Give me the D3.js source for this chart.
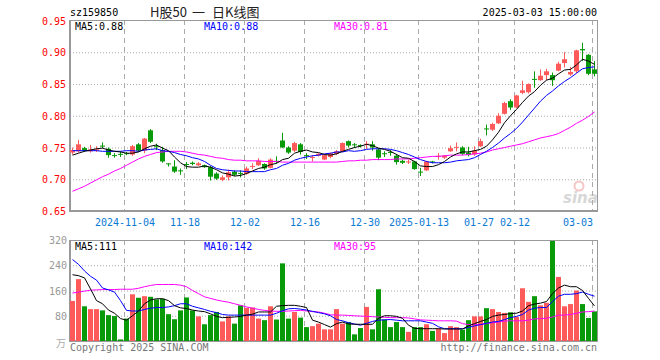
<!DOCTYPE html>
<html>
<head>
<meta charset="utf-8">
<script src="https://cdn.jsdelivr.net/npm/d3@7"></script>
<style>
  body { margin: 0; background: #fff; }
  svg text { font-family: "DejaVu Sans Mono", monospace; font-size: 10px; }
  .grid line { stroke: #aaa; }
  .grid path { display: none; }
</style>
</head>
<body>
<div id="chart"></div>
<script>
// daily candles, H股50 (sz159850)
const dates = [
  "2024-10-22","2024-10-23","2024-10-24","2024-10-25","2024-10-28","2024-10-29","2024-10-30","2024-10-31","2024-11-01","2024-11-04",
  "2024-11-05","2024-11-06","2024-11-07","2024-11-08","2024-11-11","2024-11-12","2024-11-13","2024-11-14","2024-11-15","2024-11-18",
  "2024-11-19","2024-11-20","2024-11-21","2024-11-22","2024-11-25","2024-11-26","2024-11-27","2024-11-28","2024-11-29","2024-12-02",
  "2024-12-03","2024-12-04","2024-12-05","2024-12-06","2024-12-09","2024-12-10","2024-12-11","2024-12-12","2024-12-13","2024-12-16",
  "2024-12-17","2024-12-18","2024-12-19","2024-12-20","2024-12-23","2024-12-24","2024-12-25","2024-12-26","2024-12-27","2024-12-30",
  "2024-12-31","2025-01-02","2025-01-03","2025-01-06","2025-01-07","2025-01-08","2025-01-09","2025-01-10","2025-01-13","2025-01-14",
  "2025-01-15","2025-01-16","2025-01-17","2025-01-20","2025-01-21","2025-01-22","2025-01-23","2025-01-24","2025-01-27","2025-02-05",
  "2025-02-06","2025-02-07","2025-02-10","2025-02-11","2025-02-12","2025-02-13","2025-02-14","2025-02-17","2025-02-18","2025-02-19",
  "2025-02-20","2025-02-21","2025-02-24","2025-02-25","2025-02-26","2025-02-27","2025-02-28","2025-03-03"
];
const open = [
  .742,.744,.749,.744,.745,.753,.748,.738,.740,.741,
  .739,.755,.745,.777,.752,.746,.725,.720,.714,.724,
  .726,.722,.722,.719,.709,.699,.703,.712,.710,.709,
  .720,.722,.724,.718,.729,.761,.750,.745,.755,.738,
  .734,.737,.731,.735,.740,.744,.760,.755,.754,.755,
  .755,.747,.741,.743,.737,.729,.727,.728,.712,.714,
  .728,.736,.734,.744,.750,.750,.742,.739,.752,.780,
  .778,.788,.803,.823,.813,.836,.837,.858,.856,.864,
  .864,.871,.883,.865,.870,.905,.896,.873
];
const high = [
  .750,.762,.751,.754,.752,.758,.750,.741,.744,.743,
  .754,.757,.765,.779,.756,.751,.725,.730,.717,.727,
  .728,.727,.723,.721,.711,.706,.715,.714,.714,.720,
  .725,.733,.725,.733,.736,.773,.752,.759,.757,.741,
  .738,.741,.739,.742,.746,.758,.761,.757,.755,.760,
  .760,.749,.744,.746,.740,.731,.731,.729,.718,.729,
  .729,.741,.738,.753,.758,.752,.751,.752,.764,.786,
  .789,.804,.822,.826,.833,.855,.851,.870,.873,.874,
  .868,.885,.900,.877,.904,.915,.897,.886
];
const low = [
  .739,.742,.743,.742,.743,.749,.734,.734,.735,.738,
  .737,.743,.741,.757,.746,.726,.720,.710,.707,.716,
  .722,.721,.718,.698,.699,.697,.698,.705,.703,.707,
  .716,.721,.715,.717,.725,.749,.740,.743,.739,.732,
  .728,.736,.730,.733,.738,.743,.750,.749,.750,.748,
  .745,.730,.735,.737,.723,.724,.724,.715,.705,.713,
  .725,.731,.732,.743,.744,.738,.736,.737,.751,.769,
  .776,.787,.802,.809,.812,.834,.835,.844,.855,.856,
  .847,.870,.876,.863,.867,.886,.864,.862
];
const close = [
  .746,.755,.745,.747,.747,.752,.738,.737,.739,.740,
  .752,.745,.764,.759,.751,.728,.724,.712,.713,.723,
  .724,.725,.719,.704,.701,.703,.711,.707,.709,.717,
  .721,.729,.717,.731,.727,.750,.742,.757,.743,.737,
  .735,.740,.738,.741,.744,.757,.753,.754,.753,.756,
  .750,.734,.740,.742,.727,.726,.728,.716,.711,.728,
  .727,.737,.737,.749,.751,.740,.738,.745,.760,.779,
  .787,.800,.820,.813,.832,.840,.850,.857,.863,.870,
  .856,.882,.889,.869,.903,.903,.866,.866
];
// moving averages as drawn on the picture
const ma5 = [
  .738,.741,.744,.746,.748,.749,.746,.744,.743,.741,
  .741,.743,.748,.752,.754,.749,.745,.735,.726,.720,
  .719,.719,.721,.719,.715,.710,.708,.705,.706,.709,
  .713,.717,.719,.723,.725,.731,.733,.741,.744,.746,
  .743,.742,.739,.738,.740,.744,.747,.750,.752,.755,
  .753,.749,.747,.744,.739,.734,.733,.728,.721,.720,
  .720,.723,.728,.735,.740,.743,.743,.745,.747,.752,
  .762,.774,.789,.800,.810,.821,.831,.838,.848,.856,
  .859,.866,.872,.873,.880,.889,.886,.881
];
const ma10 = [
  .745,.745,.745,.745,.745,.744,.744,.744,.744,.745,
  .745,.744,.746,.747,.748,.745,.744,.742,.739,.737,
  .734,.732,.728,.722,.717,.715,.714,.713,.713,.712,
  .712,.712,.712,.715,.717,.722,.725,.730,.733,.735,
  .737,.738,.740,.741,.743,.743,.745,.744,.745,.747,
  .748,.748,.748,.747,.745,.742,.739,.735,.731,.728,
  .726,.726,.726,.727,.729,.730,.731,.734,.739,.744,
  .750,.757,.765,.772,.780,.790,.801,.812,.823,.832,
  .839,.847,.854,.860,.867,.874,.876,.877
];
const ma30 = [
  .681,.685,.689,.694,.699,.704,.708,.713,.717,.722,
  .727,.732,.736,.739,.742,.743,.744,.744,.744,.743,
  .741,.739,.738,.736,.734,.733,.731,.730,.730,.729,
  .729,.729,.728,.728,.728,.727,.727,.727,.727,.727,
  .727,.727,.727,.727,.727,.728,.729,.729,.730,.730,
  .731,.731,.731,.731,.732,.732,.732,.733,.734,.735,
  .736,.736,.737,.738,.738,.738,.739,.740,.741,.743,
  .746,.748,.750,.752,.754,.756,.759,.762,.765,.767,
  .769,.772,.777,.782,.788,.793,.799,.806
];
// volume, 万手
const volume = [
  127,196,110,101,101,97,82,79,5,71,
  148,137,142,140,132,134,85,69,97,138,
  97,78,53,82,92,62,78,55,113,105,
  106,71,66,110,68,246,71,92,74,44,
  47,55,37,37,101,55,60,21,41,108,
  37,164,68,44,60,44,29,44,44,53,
  32,39,25,47,44,36,66,78,78,104,
  101,92,89,91,76,167,124,142,113,121,
  317,203,110,117,160,117,73,94
];
const vma5 = [
  210,207,200,165,128,118,98,88,71,66,
  80,95,118,130,134,134,128,112,105,103,
  98,95,93,86,78,74,75,76,78,82,
  85,92,92,92,110,112,113,113,110,106,
  66,60,52,44,55,60,54,53,53,53,
  53,72,80,80,78,72,50,40,39,39,
  39,39,38,38,38,38,48,55,62,68,
  78,82,84,87,88,95,112,117,120,125,
  150,168,177,172,172,160,135,111
];
const vma10 = [
  258,243,222,205,193,168,162,155,128,97,
  95,95,100,104,106,106,108,112,118,118,
  110,105,100,94,90,84,82,82,82,82,
  82,82,82,82,88,96,102,103,101,98,
  94,90,86,80,68,64,58,54,50,56,
  62,66,67,68,66,64,64,64,64,60,
  56,45,39,39,39,39,43,48,52,56,
  60,62,68,74,78,84,98,104,106,106,
  125,142,148,148,150,155,148,142
];
const vma30 = [
  152,155,158,161,162,163,163,163,164,164,
  164,167,172,176,179,179,179,179,177,172,
  160,150,140,135,130,126,123,118,113,108,
  104,100,97,95,94,94,95,96,97,95,
  93,92,88,83,82,82,81,80,79,78,
  77,76,75,74,74,74,73,70,67,66,
  65,64,64,64,63,55,52,52,52,55,
  58,60,63,64,64,64,66,70,71,72,
  76,82,82,84,88,92,93,95
];
const tickDates = ["2024-11-04","2024-11-18","2024-12-02","2024-12-16","2024-12-30","2025-01-13","2025-01-27","2025-02-12","2025-03-03"];
const tickLabels = ["2024-11-04","11-18","12-02","12-16","12-30","2025-01-13","01-27","02-12","03-03"];
const priceTicks = [0.65, 0.70, 0.75, 0.80, 0.85, 0.90, 0.95];
const volTicks = [80, 160, 240, 320];

const W = 660, H = 360;
const left = 70, right = 597;
const pTop = 20, pBot = 211, vTop = 240, vBot = 341;
const RED = "#ff5a5a", GREEN = "#089a08", BLUE = "#0000ff", MAG = "#ff00ff";

const svg = d3.select("#chart").append("svg")
    .attr("width", W)
    .attr("height", H);

const x = d3.scaleLinear().domain([0, dates.length - 1]).range([72.3, 594.3]);
const cx = i => Math.round(x(i));
const y = d3.scaleLinear().domain([0.65, 0.95]).range([pBot, 20.5]);
const yv = d3.scaleLinear().domain([0, 320]).range([vBot, vTop]);

const tickIdx = tickDates.map(d => dates.indexOf(d));

// header
svg.append("text").attr("x", 70).attr("y", 16).attr("fill", "#000").text("sz159850");
const title = svg.append("text").attr("y", 17)
    .style("font-family", "'Noto Sans CJK SC', sans-serif").style("font-size", "13px")
    .attr("fill", "#222");
title.append("tspan").attr("x", 150).text("H股50");
title.append("tspan").attr("x", 192).text("一");
title.append("tspan").attr("x", 212).text("日K线图");
svg.append("text").attr("x", 597).attr("y", 16).attr("text-anchor", "end")
    .attr("fill", "#000").text("2025-03-03 15:00:00");

function panel(top, bot, yScale, hTicks) {
    const g = svg.append("g");
    // horizontal dotted grid
    g.append("g").attr("class", "grid")
        .attr("transform", "translate(" + left + ",0)")
        .call(d3.axisLeft(yScale).tickValues(hTicks).tickSize(-(right - left)).tickFormat(""))
        .selectAll("line").attr("stroke-dasharray", "1,2");
    // vertical dashed grid
    g.selectAll(".vgrid").data(tickIdx).enter().append("line")
        .attr("x1", i => cx(i) - 1.5).attr("x2", i => cx(i) - 1.5)
        .attr("y1", top).attr("y2", bot)
        .attr("stroke", "#aaa").attr("stroke-dasharray", "5,4");
    g.append("rect").attr("x", left + 0.5).attr("y", top + 0.5)
        .attr("width", right - left).attr("height", bot - top)
        .attr("fill", "none").attr("stroke", "#999");
    g.append("line").attr("x1", left).attr("x2", left).attr("y1", top).attr("y2", bot + 1)
        .attr("stroke", "#999").attr("stroke-width", 2);
    g.append("line").attr("x1", left).attr("x2", right + 1).attr("y1", bot).attr("y2", bot)
        .attr("stroke", "#999").attr("stroke-width", 2);
}

panel(pTop, pBot, y, [0.70, 0.75, 0.80, 0.85, 0.90]);
panel(vTop, vBot, yv, [80, 160, 240]);

// price labels
svg.append("g").selectAll("text").data(priceTicks).enter().append("text")
    .attr("x", 66).attr("y", d => y(d) + 4).attr("text-anchor", "end")
    .attr("fill", "#f00").text(d3.format(".2f"));

// date labels
svg.append("g").selectAll("text").data(tickIdx).enter().append("text")
    .attr("x", (d, k) => k === tickIdx.length - 1 ? 593 : cx(d) - 1)
    .attr("y", 226)
    .attr("text-anchor", (d, k) => k === tickIdx.length - 1 ? "end" : "middle")
    .attr("fill", "#0a7ad4").text((d, k) => tickLabels[k]);

// volume labels
svg.append("g").selectAll("text").data(volTicks).enter().append("text")
    .attr("x", 67).attr("y", d => yv(d) + 4).attr("text-anchor", "end")
    .attr("fill", "#999").text(d => d);
svg.append("text").attr("x", 66).attr("y", 347).attr("text-anchor", "end")
    .style("font-family", "'Noto Sans CJK SC', sans-serif").style("font-size", "10px")
    .attr("fill", "#aaa").text("万");

// sina watermark
const wm = svg.append("g").attr("opacity", 0.55);
wm.append("circle").attr("cx", 579).attr("cy", 186).attr("r", 4.5)
    .attr("fill", "none").attr("stroke", "#f29a9a").attr("stroke-width", 2);
wm.append("text").attr("x", 563).attr("y", 203)
    .style("font-family", "'DejaVu Sans', sans-serif").style("font-size", "15px")
    .style("font-weight", "bold").style("font-style", "italic")
    .attr("fill", "#b8b8b8").text("sina");

// candles
const idx = d3.range(dates.length);
const up = i => close[i] >= open[i];
const cg = svg.append("g");
cg.selectAll("line").data(idx).enter().append("line")
    .attr("x1", i => cx(i) + 0.5).attr("x2", i => cx(i) + 0.5)
    .attr("y1", i => y(high[i])).attr("y2", i => y(low[i]))
    .attr("stroke", i => up(i) ? RED : GREEN);
cg.selectAll("rect").data(idx).enter().append("rect")
    .attr("x", i => cx(i) - 2)
    .attr("width", 5)
    .attr("y", i => y(Math.max(open[i], close[i])))
    .attr("height", i => Math.max(1, Math.abs(y(open[i]) - y(close[i]))))
    .attr("fill", i => up(i) ? RED : GREEN);

// volume bars
svg.append("g").selectAll("rect").data(idx).enter().append("rect")
    .attr("x", i => cx(i) - 2)
    .attr("width", 5)
    .attr("y", i => yv(volume[i]))
    .attr("height", i => vBot - yv(volume[i]))
    .attr("fill", i => up(i) ? RED : GREEN);

// MA lines
function maLine(vals, sc, color) {
    svg.append("path")
        .datum(vals)
        .attr("fill", "none")
        .attr("stroke", color)
        .attr("stroke-width", 1)
        .attr("d", d3.line().x((d, i) => cx(i) + 0.5).y(d => sc(d)));
}
maLine(ma30, y, MAG);
maLine(ma10, y, BLUE);
maLine(ma5, y, "#000");
maLine(vma30, yv, MAG);
maLine(vma10, yv, BLUE);
maLine(vma5, yv, "#000");

// legends
const last = dates.length - 1;
const f2 = d3.format(".2f");
function legend(yy, items) {
    items.forEach(it => {
        svg.append("text").attr("x", it[0]).attr("y", yy).attr("fill", it[1]).text(it[2]);
    });
}
legend(30, [[75, "#000", "MA5:" + f2(ma5[last])], [204, BLUE, "MA10:" + f2(ma10[last])], [334, MAG, "MA30:" + f2(ma30[last])]]);
legend(250, [[75, "#000", "MA5:" + vma5[last]], [204, BLUE, "MA10:" + vma10[last]], [334, MAG, "MA30:" + vma30[last]]]);

// footer
svg.append("text").attr("x", 70).attr("y", 351).attr("fill", "#777").text("Copyright 2025 SINA.COM");
svg.append("text").attr("x", 597).attr("y", 351).attr("text-anchor", "end")
    .attr("fill", "#777").text("http://finance.sina.com.cn");
</script>
</body>
</html>
